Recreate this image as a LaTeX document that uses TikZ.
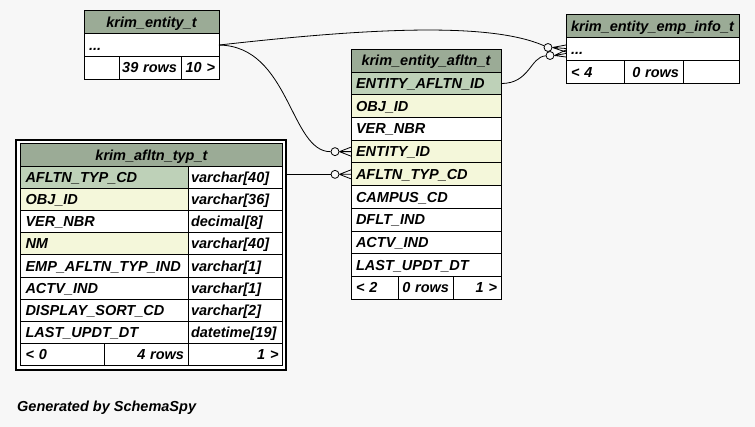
\documentclass[tikz,border=0pt]{standalone}
\usepackage{fontspec}
\setmainfont{Liberation Sans}
\newcommand\erf{\bfseries\itshape\fontsize{14.5}{16}\selectfont}
\definecolor{hdr}{HTML}{9BAB96}
\definecolor{pk}{HTML}{BED1B8}
\definecolor{idx}{HTML}{F4F7DA}
\definecolor{bg}{HTML}{F7F7F7}
\begin{document}
\begin{tikzpicture}[x=1pt,y=-1pt,
 cell/.style={draw=black, line width=1pt, anchor=north west, outer sep=0pt, inner xsep=2pt, inner ysep=0pt, text height=11pt, text depth=1pt, font=\erf, fill=white, minimum height=22.7pt},
 L/.style={cell, text width=#1, align=left, execute at begin node=\hspace*{3pt}},
 Lt/.style={cell, text width=#1, align=left, execute at begin node=\hspace*{1pt}},
 R/.style={cell, text width=#1, align=right, execute at end node=\hspace*{2pt}},
 C/.style={cell, text width=#1, align=center},
 hd/.style={fill=hdr}, pkr/.style={fill=pk}, ix/.style={fill=idx},
 tr/.style={minimum height=22.2pt},
 fr/.style={minimum height=22.9pt},
 circ/.style={circle, draw=black, line width=0.8pt, fill=bg, minimum size=8pt, inner sep=0pt},
 edge/.style={draw=black, line width=0.8pt},
]
\fill[bg] (0,0) rectangle (755,427);
\useasboundingbox (0,0) rectangle (755,427);

% krim_entity_t
\node[C=131pt, hd] (eH) at (84,11) {krim\_entity\_t};
\node[L=131pt] (eR) at (84,33.7) {...};
\node[L=31pt] (eF1) at (84,56.4) {};
\node[R=58pt] (eF2) at (119,56.4) {39 rows};
\node[R=34pt] (eF3) at (181,56.4) {10 >};

% krim_entity_emp_info_t
\node[C=169pt, hd, fr] (fH) at (566,15) {krim\_entity\_emp\_info\_t};
\node[L=169pt, fr] (fR) at (566,37.9) {...};
\node[L=54pt, fr] (fF1) at (566,60.8) {< 4};
\node[R=55pt, fr] (fF2) at (624,60.8) {0 rows};
\node[L=52pt, fr] (fF3) at (683,60.8) {};

% krim_entity_afltn_t
\node[C=146pt, hd] (aH) at (351,49.5) {krim\_entity\_afltn\_t};
\node[L=146pt, pkr] (a1) at (351,72.2) {ENTITY\_AFLTN\_ID};
\node[L=146pt, ix] (a2) at (351,94.9) {OBJ\_ID};
\node[L=146pt] (a3) at (351,117.6) {VER\_NBR};
\node[L=146pt, ix] (a4) at (351,140.3) {ENTITY\_ID};
\node[L=146pt, ix] (a5) at (351,163.0) {AFLTN\_TYP\_CD};
\node[L=146pt] (a6) at (351,185.7) {CAMPUS\_CD};
\node[L=146pt] (a7) at (351,208.4) {DFLT\_IND};
\node[L=146pt] (a8) at (351,231.1) {ACTV\_IND};
\node[L=146pt] (a9) at (351,253.8) {LAST\_UPDT\_DT};
\node[L=43pt] (aF1) at (351,276.5) {< 2};
\node[R=51pt] (aF2) at (398,276.5) {0 rows};
\node[R=44pt] (aF3) at (453,276.5) {1 >};

% krim_afltn_typ_t
\node[draw=black, line width=2pt, fill=white, minimum width=270pt, minimum height=230pt, anchor=north west, outer sep=0pt, inner sep=0pt] (tframe) at (16,140) {};
\node[C=258pt, hd, tr] (tH) at (20.5,144) {krim\_afltn\_typ\_t};
\node[L=163.5pt, pkr, tr] (t1) at (20.5,166.2) {AFLTN\_TYP\_CD};
\node[Lt=90.5pt, tr] (t1b) at (188,166.2) {varchar[40]};
\node[L=163.5pt, ix, tr] (t2) at (20.5,188.4) {OBJ\_ID};
\node[Lt=90.5pt, tr] (t2b) at (188,188.4) {varchar[36]};
\node[L=163.5pt, tr] (t3) at (20.5,210.6) {VER\_NBR};
\node[Lt=90.5pt, tr] (t3b) at (188,210.6) {decimal[8]};
\node[L=163.5pt, ix, tr] (t4) at (20.5,232.8) {NM};
\node[Lt=90.5pt, tr] (t4b) at (188,232.8) {varchar[40]};
\node[L=163.5pt, tr] (t5) at (20.5,255.0) {EMP\_AFLTN\_TYP\_IND};
\node[Lt=90.5pt, tr] (t5b) at (188,255.0) {varchar[1]};
\node[L=163.5pt, tr] (t6) at (20.5,277.2) {ACTV\_IND};
\node[Lt=90.5pt, tr] (t6b) at (188,277.2) {varchar[1]};
\node[L=163.5pt, tr] (t7) at (20.5,299.4) {DISPLAY\_SORT\_CD};
\node[Lt=90.5pt, tr] (t7b) at (188,299.4) {varchar[2]};
\node[L=163.5pt, tr] (t8) at (20.5,321.6) {LAST\_UPDT\_DT};
\node[Lt=90.5pt, tr] (t8b) at (188,321.6) {datetime[19]};
\node[L=79.5pt, tr] (tF1) at (20.5,343.8) {< 0};
\node[R=80pt, tr] (tF2) at (104,343.8) {4 rows};
\node[R=90.5pt, tr] (tF3) at (188,343.8) {1 >};

% circles of the crow's feet
\node[circ] (c1) at (548,47.5) {};
\node[circ] (c2) at (550,55.5) {};
\node[circ] (c3) at (335,151.65) {};
\node[circ] (c4) at (335,174.35) {};

% connectors
\draw[edge] (eR.east) .. controls (370,28) and (490,22) .. (c1);
\draw[edge] (eR.east) .. controls (290,46) and (290,152) .. (c3);
\draw[edge] (a1.east) .. controls (530,83.5) and (530,57) .. (c2);
\draw[edge] (tframe.east |- c4) -- (c4);

% crow's feet
\draw[edge] (c3.east) -- ([yshift=4.5pt]a4.west) (c3.east) -- (a4.west) (c3.east) -- ([yshift=-4.5pt]a4.west);
\draw[edge] (c4.east) -- ([yshift=4.5pt]a5.west) (c4.east) -- (a5.west) (c4.east) -- ([yshift=-4.5pt]a5.west);
\draw[edge] (c1.east) -- ([yshift=4.35pt]fR.west) (c1.east) -- ([yshift=0.85pt]fR.west) (c1.east) -- ([yshift=-2.65pt]fR.west);
\draw[edge] (c2.east) -- ([yshift=-0.65pt]fR.west) (c2.east) -- ([yshift=-4.15pt]fR.west) (c2.east) -- ([yshift=-7.65pt]fR.west);

\node[anchor=west, inner sep=0pt, font=\erf] (gen) at (17,408) {Generated by SchemaSpy};
\end{tikzpicture}
\end{document}
